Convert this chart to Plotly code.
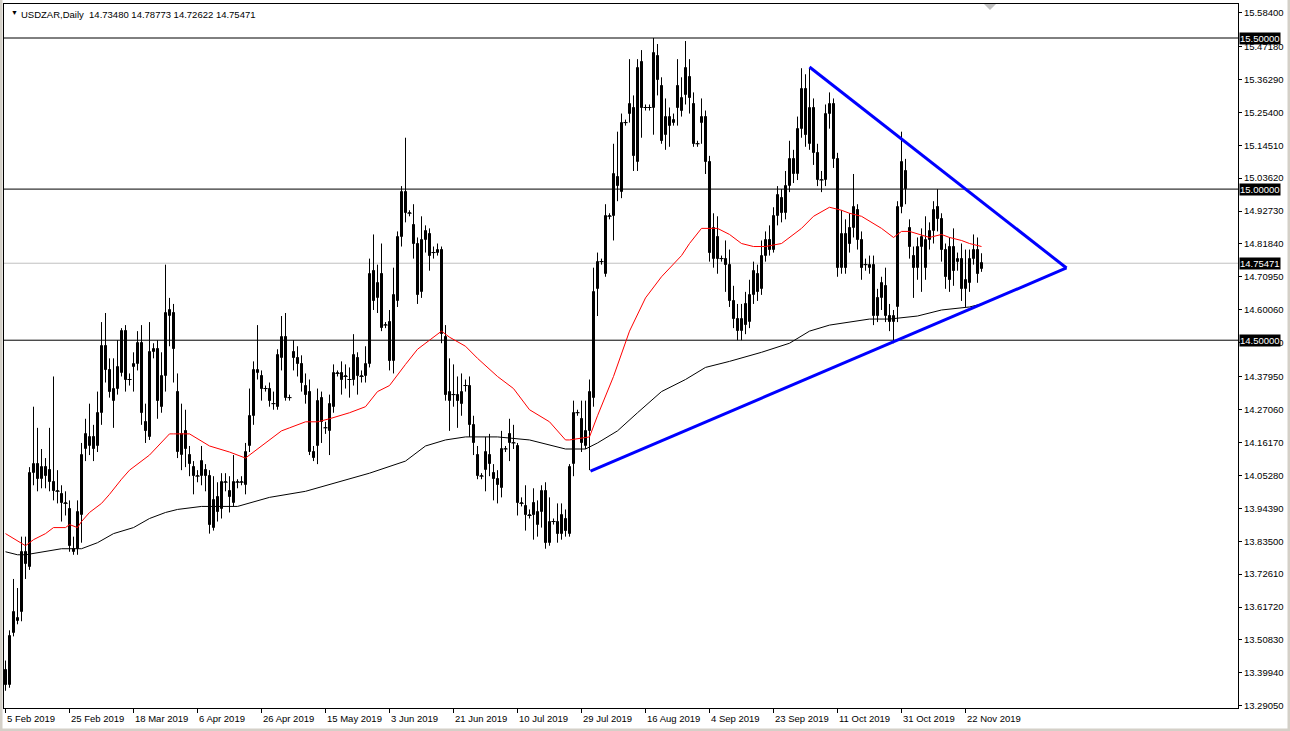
import plotly.graph_objects as go

# ---------------- data ----------------
opens = [
 13.41,13.36,13.53,13.57,13.60,13.80,13.75,14.06,14.09,14.04,
 14.08,14.07,14.03,14.00,13.99,13.96,13.94,13.80,13.81,13.92,
 14.14,14.15,14.18,14.15,14.26,14.48,14.40,14.30,14.34,14.39,
 14.53,14.37,14.41,14.42,14.49,14.23,14.18,14.46,14.47,14.28,
 14.38,14.58,14.59,14.33,14.12,14.20,14.12,14.08,14.05,14.05,
 14.07,14.05,13.88,13.98,13.94,14.03,14.00,13.96,14.03,14.03,
 14.02,14.15,14.25,14.39,14.38,14.34,14.34,14.29,14.28,14.44,
 14.51,14.31,14.46,14.44,14.42,14.35,14.33,14.13,14.15,14.31,
 14.21,14.20,14.28,14.39,14.39,14.38,14.37,14.37,14.44,14.38,
 14.38,14.42,14.73,14.64,14.72,14.55,14.56,14.43,14.63,14.84,
 14.99,14.92,14.88,14.82,14.66,14.83,14.85,14.79,14.79,14.80,
 14.51,14.30,14.32,14.32,14.29,14.35,14.35,14.22,14.12,14.05,
 14.07,14.12,14.06,14.04,14.01,14.14,14.19,14.16,14.15,13.96,
 13.95,13.92,13.96,13.89,13.93,14.00,13.83,13.90,13.90,13.86,
 13.91,13.86,14.09,14.26,14.24,14.15,14.20,14.31,14.67,14.76,
 14.72,14.91,14.91,15.04,14.99,15.22,15.25,15.27,15.09,15.42,
 15.27,15.27,15.27,15.44,15.34,15.18,15.21,15.22,15.34,15.26,
 15.31,15.37,15.28,15.15,15.22,15.24,15.09,14.77,14.84,14.77,
 14.77,14.75,14.63,14.57,14.53,14.62,14.56,14.65,14.72,14.67,
 14.78,14.83,14.80,14.91,14.97,14.92,15.01,15.10,15.05,15.20,
 15.33,15.15,15.27,15.12,15.03,15.03,15.25,15.28,15.10,14.74,
 14.85,14.87,14.87,14.93,14.83,14.75,14.74,14.75,14.64,14.64,
 14.68,14.58,14.56,14.61,14.94,15.06,14.87,14.78,14.74,14.81,
 14.74,14.83,14.86,14.94,14.90,14.80,14.81,14.81,14.76,14.77,
 14.67,14.69,14.77,14.80,14.73480]
highs = [
 13.44,13.54,13.71,13.68,13.85,13.85,14.08,14.28,14.21,14.14,
 14.11,14.21,14.38,14.07,14.02,14.00,13.97,13.85,13.97,14.16,
 14.24,14.29,14.22,14.33,14.56,14.59,14.44,14.44,14.50,14.54,
 14.55,14.39,14.46,14.53,14.55,14.29,14.56,14.49,14.50,14.46,
 14.75,14.64,14.62,14.39,14.29,14.27,14.15,14.10,14.07,14.15,
 14.09,14.07,14.05,14.03,14.06,14.06,14.05,14.12,14.04,14.05,
 14.16,14.34,14.43,14.55,14.40,14.35,14.36,14.33,14.47,14.58,
 14.59,14.32,14.50,14.48,14.45,14.39,14.37,14.15,14.34,14.33,
 14.23,14.32,14.42,14.40,14.43,14.42,14.41,14.52,14.46,14.40,
 14.48,14.77,14.85,14.75,14.82,14.56,14.60,14.74,14.86,15.01,
 15.17,14.93,14.95,14.84,14.91,14.88,14.87,14.81,14.82,14.81,
 14.55,14.44,14.42,14.38,14.39,14.37,14.38,14.25,14.15,14.06,
 14.18,14.19,14.09,14.07,14.20,14.15,14.24,14.22,14.16,13.98,
 14.02,13.94,14.01,13.97,14.02,14.03,13.98,13.91,13.96,13.96,
 13.94,14.09,14.30,14.27,14.30,14.30,14.37,14.74,14.79,14.77,
 14.95,14.92,15.15,15.19,15.25,15.23,15.43,15.31,15.43,15.46,
 15.28,15.28,15.50,15.48,15.37,15.30,15.27,15.25,15.43,15.37,
 15.49,15.43,15.32,15.16,15.30,15.26,15.11,14.92,14.91,14.78,
 14.83,14.80,14.68,14.62,14.62,14.66,14.70,14.76,14.75,14.83,
 14.86,14.88,14.94,15.01,15.00,15.06,15.16,15.13,15.24,15.40,
 15.38,15.40,15.30,15.15,15.06,15.28,15.32,15.30,15.12,14.93,
 14.90,14.92,15.05,14.95,14.86,14.77,14.78,14.78,14.67,14.71,
 14.74,14.62,14.60,14.96,15.19,15.10,14.90,14.81,14.84,14.87,
 14.91,14.89,14.96,15.00,14.92,14.82,14.84,14.87,14.79,14.82,
 14.80,14.80,14.85,14.84,14.78773]
lows = [
 13.34,13.35,13.52,13.56,13.57,13.71,13.74,14.02,14.00,14.01,
 14.01,14.00,13.97,13.96,13.90,13.92,13.80,13.79,13.79,13.83,
 14.10,14.12,14.10,14.13,14.22,14.36,14.31,14.21,14.32,14.38,
 14.33,14.35,14.33,14.40,14.22,14.16,14.17,14.44,14.24,14.26,
 14.33,14.48,14.36,14.11,14.07,14.08,14.05,13.99,14.03,14.02,
 14.00,13.86,13.87,13.90,13.91,14.00,13.93,13.95,14.01,14.02,
 13.99,14.13,14.22,14.37,14.30,14.33,14.28,14.27,14.27,14.40,
 14.30,14.30,14.40,14.38,14.33,14.29,14.12,14.10,14.09,14.16,
 14.19,14.12,14.26,14.38,14.32,14.34,14.31,14.35,14.32,14.36,
 14.36,14.41,14.60,14.59,14.53,14.54,14.40,14.39,14.61,14.81,
 14.89,14.91,14.77,14.62,14.64,14.79,14.73,14.77,14.78,14.49,
 14.30,14.20,14.28,14.21,14.25,14.33,14.18,14.12,14.04,14.04,
 14.00,14.05,13.97,13.96,13.98,14.13,14.10,14.14,13.92,13.95,
 13.87,13.91,13.84,13.85,13.88,13.81,13.82,13.89,13.83,13.84,
 13.85,13.85,14.05,14.25,14.13,14.14,14.07,14.28,14.58,14.75,
 14.71,14.90,14.83,14.96,14.97,15.21,15.22,15.06,15.06,15.17,
 15.26,15.26,15.18,15.31,15.15,15.13,15.14,15.21,15.21,15.24,
 15.28,15.25,15.14,15.14,15.15,15.05,14.76,14.74,14.72,14.76,
 14.66,14.61,14.54,14.50,14.50,14.52,14.54,14.62,14.63,14.65,
 14.76,14.78,14.79,14.88,14.89,14.90,14.99,15.02,15.03,15.17,
 15.14,15.13,15.08,15.01,14.99,15.01,15.20,15.07,14.71,14.72,
 14.72,14.79,14.84,14.80,14.70,14.73,14.72,14.55,14.56,14.60,
 14.56,14.53,14.49,14.56,14.92,14.95,14.77,14.64,14.70,14.66,
 14.70,14.80,14.82,14.86,14.76,14.67,14.66,14.68,14.73,14.63,
 14.61,14.66,14.75,14.69,14.72622]
closes = [
 13.36,13.52,13.60,13.58,13.80,13.76,14.06,14.09,14.04,14.08,
 14.05,14.03,14.00,14.00,13.96,13.96,13.82,13.81,13.93,14.12,
 14.19,14.18,14.14,14.26,14.48,14.40,14.33,14.34,14.41,14.53,
 14.37,14.37,14.42,14.49,14.26,14.20,14.46,14.47,14.30,14.38,
 14.59,14.60,14.47,14.13,14.19,14.14,14.09,14.05,14.05,14.10,
 14.05,13.89,13.97,13.93,14.03,14.03,13.98,14.03,14.03,14.03,
 14.13,14.25,14.40,14.40,14.34,14.34,14.30,14.29,14.45,14.51,
 14.31,14.31,14.44,14.42,14.36,14.32,14.13,14.11,14.30,14.23,
 14.21,14.29,14.39,14.39,14.37,14.38,14.37,14.45,14.38,14.38,
 14.42,14.72,14.63,14.69,14.54,14.55,14.43,14.65,14.84,14.99,
 14.92,14.92,14.82,14.65,14.83,14.86,14.78,14.79,14.80,14.52,
 14.32,14.33,14.32,14.30,14.33,14.35,14.22,14.16,14.05,14.05,
 14.13,14.09,14.04,14.02,14.14,14.14,14.16,14.16,13.96,13.96,
 13.92,13.92,13.92,13.93,14.00,13.83,13.90,13.90,13.86,13.92,
 13.87,14.08,14.26,14.26,14.16,14.20,14.33,14.66,14.76,14.76,
 14.91,14.91,15.05,15.01,15.22,15.22,15.28,15.11,15.40,15.27,
 15.27,15.27,15.45,15.36,15.16,15.24,15.24,15.23,15.27,15.30,
 15.40,15.30,15.15,15.15,15.24,15.09,14.79,14.87,14.77,14.77,
 14.75,14.63,14.57,14.53,14.57,14.55,14.65,14.73,14.66,14.78,
 14.83,14.80,14.91,14.98,14.92,15.01,15.10,15.05,15.20,15.33,
 15.18,15.27,15.12,15.03,15.03,15.25,15.28,15.10,14.74,14.85,
 14.74,14.82,14.94,14.83,14.74,14.75,14.75,14.58,14.58,14.69,
 14.58,14.56,14.58,14.94,15.09,15.00,14.81,14.74,14.81,14.84,
 14.83,14.86,14.93,14.90,14.80,14.71,14.70,14.73,14.77,14.67,
 14.70,14.77,14.80,14.72,14.75471]

# red (fast) moving average, sampled at bar indices
ma_fast_idx = [0,5,7,10,12,15,16,18,19,21,24,26,29,31,36,41,42,46,51,56,60,63,66,69,71,75,78,81,86,90,93,96,
               100,103,106,109,111,115,118,123,127,131,136,140,141,146,148,152,156,160,164,169,171,174,178,181,
               184,187,190,194,199,202,206,209,211,214,219,222,224,226,231,234,236,239,241,244]
ma_fast = [13.86,13.82,13.84,13.86,13.88,13.88,13.89,13.88,13.90,13.93,13.96,13.99,14.04,14.07,14.12,14.19,14.19,
           14.19,14.15,14.13,14.11,14.14,14.17,14.20,14.21,14.23,14.23,14.24,14.26,14.28,14.33,14.35,14.42,14.47,
           14.50,14.53,14.51,14.48,14.44,14.38,14.34,14.27,14.23,14.17,14.17,14.18,14.25,14.38,14.53,14.64,14.71,
           14.78,14.82,14.87,14.87,14.85,14.82,14.81,14.81,14.82,14.87,14.91,14.94,14.93,14.92,14.91,14.87,14.84,
           14.86,14.86,14.84,14.85,14.84,14.83,14.82,14.81]
# black (slow) moving average
ma_slow_idx = [0,3,5,9,14,19,23,27,32,36,40,43,49,58,66,75,83,91,100,105,110,115,123,131,140,145,148,153,158,164,
               170,175,181,189,196,201,206,211,216,221,228,234,241,244]
ma_slow = [13.80,13.79,13.79,13.80,13.81,13.81,13.83,13.86,13.88,13.91,13.93,13.94,13.95,13.95,13.98,14.00,14.03,
           14.06,14.10,14.15,14.17,14.18,14.18,14.17,14.14,14.14,14.16,14.20,14.26,14.33,14.37,14.41,14.43,14.46,
           14.49,14.53,14.55,14.56,14.57,14.57,14.58,14.60,14.61,14.62]

# drawn objects
levels = [15.5, 15.0, 14.5]
last_price = 14.75471
trend_upper_idx, trend_upper_px = [201, 265.25], [15.404, 14.739]
trend_lower_idx, trend_lower_px = [146.25, 265.25], [14.067, 14.739]

y_ticks = [15.58400,15.47180,15.36290,15.25400,15.14510,15.03620,14.92730,14.81840,14.70950,14.60060,14.49170,
           14.37950,14.27060,14.16170,14.05280,13.94390,13.83500,13.72610,13.61720,13.50830,13.39940,13.29050]
date_idx = [0,16,32,48,64,80,96,112,128,144,160,176,192,208,224,240]
date_labels = ["5 Feb 2019","25 Feb 2019","18 Mar 2019","6 Apr 2019","26 Apr 2019","15 May 2019","3 Jun 2019",
               "21 Jun 2019","10 Jul 2019","29 Jul 2019","16 Aug 2019","4 Sep 2019","23 Sep 2019","11 Oct 2019",
               "31 Oct 2019","22 Nov 2019"]
title_text = "USDZAR,Daily  14.73480 14.78773 14.72622 14.75471"

# ---------------- figure ----------------
FONT = "Liberation Sans, Arial, sans-serif"
W, H = 1290, 731
ML, MR, MT, MB = 4, 52, 4, 23
PW, PH = W - ML - MR, H - MT - MB
bars = list(range(len(closes)))

fig = go.Figure()

# wicks
wx, wy = [], []
for i, hi, lo in zip(bars, highs, lows):
    wx += [i, i, None]
    wy += [lo, hi, None]
fig.add_trace(go.Scatter(x=wx, y=wy, mode="lines", line=dict(color="black", width=1),
                         showlegend=False, hoverinfo="skip"))
# bodies
fig.add_trace(go.Bar(
    x=bars, base=opens, y=[c - o for o, c in zip(opens, closes)], width=0.5,
    marker=dict(color=["white" if c > o else "black" for o, c in zip(opens, closes)],
                line=dict(color="black", width=1)),
    showlegend=False, hoverinfo="skip"))
# doji bars (open == close) drawn as short dashes
dj = [i for i, o, c in zip(bars, opens, closes) if abs(c - o) < 1e-9]
fig.add_trace(go.Scatter(x=dj, y=[closes[i] for i in dj], mode="markers",
                         marker=dict(symbol="line-ew", size=3, line=dict(color="black", width=1)),
                         showlegend=False, hoverinfo="skip"))

fig.add_trace(go.Scatter(x=ma_fast_idx, y=ma_fast, mode="lines",
                         line=dict(color="#FF0000", width=1), showlegend=False, hoverinfo="skip"))
fig.add_trace(go.Scatter(x=ma_slow_idx, y=ma_slow, mode="lines",
                         line=dict(color="black", width=1), showlegend=False, hoverinfo="skip"))
for xs, ys in [(trend_upper_idx, trend_upper_px), (trend_lower_idx, trend_lower_px)]:
    fig.add_trace(go.Scatter(x=xs, y=ys, mode="lines", line=dict(color="#0000FF", width=3),
                             showlegend=False, hoverinfo="skip"))


def px(x):  # pixel -> paper x
    return (x - ML) / PW


def py(y):  # pixel -> paper y
    return (H - MB - y) / PH


shapes = []
for lv in levels:
    shapes.append(dict(type="line", xref="paper", x0=0, x1=1, yref="y", y0=lv, y1=lv,
                       line=dict(color="black", width=1), layer="below"))
shapes.append(dict(type="line", xref="paper", x0=0, x1=1, yref="y", y0=last_price, y1=last_price,
                   line=dict(color="#C0C0C0", width=1), layer="below"))
# window frame (grey borders of the terminal)
shapes.append(dict(type="rect", xref="paper", yref="paper", x0=px(0), x1=px(2.5), y0=py(H), y1=py(0),
                   fillcolor="#D4D0C8", line=dict(width=0)))
shapes.append(dict(type="rect", xref="paper", yref="paper", x0=px(0), x1=px(W), y0=py(H), y1=py(H - 2.5),
                   fillcolor="#D4D0C8", line=dict(width=0)))
shapes.append(dict(type="rect", xref="paper", yref="paper", x0=px(W - 2.5), x1=px(W), y0=py(H), y1=py(0),
                   fillcolor="#D4D0C8", line=dict(width=0)))
# chart-shift marker
shapes.append(dict(type="path", xref="paper", yref="paper",
                   path=f"M {px(984)} {py(4)} L {px(996)} {py(4)} L {px(990)} {py(10)} Z",
                   fillcolor="#C0C0C0", line=dict(width=0)))

annotations = []
for lv in levels + [last_price]:
    annotations.append(dict(xref="paper", x=1, xanchor="left", xshift=1, yref="y", y=lv,
                            text=f"{lv:.5f}", showarrow=False, bgcolor="black", borderpad=0,
                            font=dict(family=FONT, size=9.5, color="white")))
for i, lab in zip(date_idx, date_labels):
    annotations.append(dict(xref="x", x=i, xanchor="left", xshift=-1, yref="paper", y=0, yanchor="top",
                            yshift=-3, text=lab, showarrow=False,
                            font=dict(family=FONT, size=9.5, color="black")))
annotations.append(dict(xref="paper", x=0, xanchor="left", xshift=5, yref="paper", y=1, yanchor="top",
                        yshift=-3, text="▼", showarrow=False, font=dict(family=FONT, size=7, color="black")))
annotations.append(dict(xref="paper", x=0, xanchor="left", xshift=15, yref="paper", y=1, yanchor="top",
                        yshift=-3, text=title_text, showarrow=False,
                        font=dict(family=FONT, size=9.5, color="black")))

fig.update_layout(
    width=W, height=H, margin=dict(l=ML, r=MR, t=MT, b=MB),
    paper_bgcolor="white", plot_bgcolor="white",
    font=dict(family=FONT, size=9.5, color="black"),
    shapes=shapes, annotations=annotations, showlegend=False, bargap=0,
    xaxis=dict(range=[-0.375, 308.125], showgrid=False, zeroline=False, showline=True, mirror=True,
               linecolor="black", linewidth=1, ticks="outside", ticklen=4, tickcolor="black",
               tickvals=date_idx, showticklabels=False, fixedrange=True),
    yaxis=dict(side="right", range=[13.2830, 15.6125], showgrid=False, zeroline=False, showline=True,
               mirror=True, linecolor="black", linewidth=1, ticks="outside", ticklen=3, tickcolor="black",
               tickvals=y_ticks, ticktext=[f"{v:.5f}" for v in y_ticks],
               tickfont=dict(family=FONT, size=9.5, color="black"), fixedrange=True),
)

fig.write_html("out.html", config={"displayModeBar": False},
               post_script="document.body.style.margin='0';document.body.style.overflow='hidden';")
